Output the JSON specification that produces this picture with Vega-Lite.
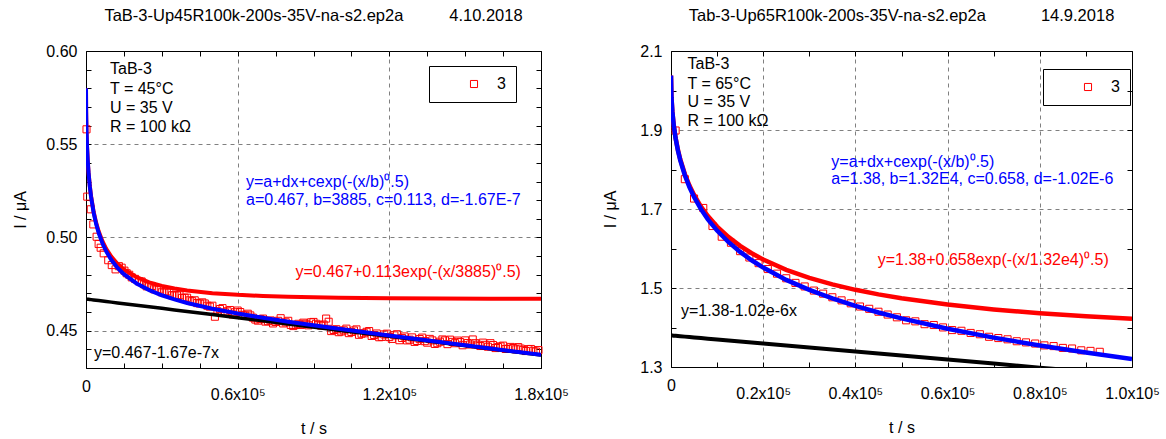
{
  "$schema": "https://vega.github.io/schema/vega-lite/v6.json",
  "autosize": {"type": "pad"},
  "padding": {"left": 12, "top": 7, "right": 0, "bottom": 0},
  "background": "white",
  "config": {
    "view": {"stroke": "black", "strokeWidth": 1},
    "font": "Liberation Sans",
    "axis": {"domain": false, "ticks": true, "tickSize": -5, "tickColor": "black", "tickWidth": 1,
      "labelFont": "Liberation Sans", "labelFontSize": 16, "labelColor": "black",
      "labelFlush": false, "labelOverlap": false, "labelBound": false,
      "titleFont": "Liberation Sans", "titleFontSize": 16, "titleFontWeight": "normal", "titleColor": "black",
      "gridColor": "#808080", "gridDash": [4, 4], "gridWidth": 1},
    "title": {"font": "Liberation Sans", "fontSize": 16.5, "fontWeight": "normal", "color": "black", "anchor": "middle", "frame": "group", "offset": 19},
    "legend": {"orient": "none", "title": null, "strokeColor": "black", "padding": 10, "symbolOffset": 27, "labelOffset": 15,
      "symbolType": "square", "symbolSize": 50, "symbolStrokeColor": "#ff0000", "symbolFillColor": "transparent", "symbolStrokeWidth": 1,
      "labelFont": "Liberation Sans", "labelFontSize": 16, "labelColor": "black"}
  },
  "datasets": {
    "left_pts": [
      {"t":200,"I":0.558},{"t":500,"I":0.5219},{"t":1900,"I":0.5151},{"t":2900,"I":0.507},{"t":4200,"I":0.5004},{"t":5000,"I":0.4965},{"t":5800,"I":0.4945},{"t":7000,"I":0.4915},{"t":8800,"I":0.4878},{"t":10200,"I":0.4852},{"t":11700,"I":0.4829},{"t":13000,"I":0.4846},{"t":14100,"I":0.4838},{"t":15200,"I":0.4822},{"t":16100,"I":0.4808},{"t":17100,"I":0.48},{"t":18100,"I":0.4786},{"t":19400,"I":0.4778},
      {"t":21000,"I":0.4765},{"t":22000,"I":0.4764},{"t":23000,"I":0.4749},{"t":24000,"I":0.4738},{"t":25000,"I":0.474},{"t":26000,"I":0.474},{"t":27000,"I":0.4722},{"t":28000,"I":0.4721},{"t":29000,"I":0.4721},{"t":30000,"I":0.4706},
      {"t":31000,"I":0.4705},{"t":32000,"I":0.4711},{"t":33000,"I":0.4704},{"t":34000,"I":0.469},{"t":35000,"I":0.469},{"t":36000,"I":0.469},{"t":37000,"I":0.469},{"t":38000,"I":0.4676},{"t":39000,"I":0.4677},{"t":40000,"I":0.4677},
      {"t":41000,"I":0.4663},{"t":42000,"I":0.4658},{"t":43000,"I":0.4663},{"t":44000,"I":0.4648},{"t":45000,"I":0.4646},{"t":46000,"I":0.4652},{"t":47000,"I":0.4646},{"t":48000,"I":0.4634},{"t":49000,"I":0.4629},{"t":50000,"I":0.4634},
      {"t":51000,"I":0.4575},{"t":52000,"I":0.4604},{"t":53000,"I":0.4616},{"t":54000,"I":0.4621},{"t":55000,"I":0.4598},{"t":56000,"I":0.4604},{"t":57000,"I":0.4611},{"t":58000,"I":0.4587},{"t":59000,"I":0.4599},{"t":60000,"I":0.4608},
      {"t":61000,"I":0.46},{"t":62000,"I":0.4585},{"t":63000,"I":0.4581},{"t":64000,"I":0.4591},{"t":65000,"I":0.4582},{"t":66000,"I":0.457},{"t":67000,"I":0.456},{"t":68000,"I":0.4554},{"t":69000,"I":0.4562},{"t":70000,"I":0.4565},
      {"t":71000,"I":0.4549},{"t":72000,"I":0.4551},{"t":73000,"I":0.4555},{"t":74000,"I":0.4539},{"t":75000,"I":0.4547},{"t":76000,"I":0.4553},{"t":77000,"I":0.4567},{"t":78000,"I":0.4539},{"t":79000,"I":0.4545},{"t":80000,"I":0.4553},
      {"t":81000,"I":0.4531},{"t":82000,"I":0.4525},{"t":83000,"I":0.4531},{"t":84000,"I":0.4537},{"t":85000,"I":0.4531},{"t":86000,"I":0.4543},{"t":87000,"I":0.4537},{"t":88000,"I":0.4529},{"t":89000,"I":0.4545},{"t":90000,"I":0.4547},
      {"t":91000,"I":0.4537},{"t":92000,"I":0.4531},{"t":93000,"I":0.4527},{"t":94000,"I":0.4533},{"t":95000,"I":0.4565},{"t":96000,"I":0.4548},{"t":97000,"I":0.4498},{"t":98000,"I":0.4504},{"t":99000,"I":0.4508},{"t":100000,"I":0.4492},
      {"t":101000,"I":0.4496},{"t":102000,"I":0.4502},{"t":103000,"I":0.4511},{"t":104000,"I":0.4487},{"t":105000,"I":0.4493},{"t":106000,"I":0.4501},{"t":107000,"I":0.4507},{"t":108000,"I":0.4478},{"t":109000,"I":0.4484},{"t":110000,"I":0.4486},
      {"t":111000,"I":0.4494},{"t":112000,"I":0.4498},{"t":113000,"I":0.4472},{"t":114000,"I":0.4477},{"t":115000,"I":0.4485},{"t":116000,"I":0.4465},{"t":117000,"I":0.4467},{"t":118000,"I":0.448},{"t":119000,"I":0.4484},{"t":120000,"I":0.4466},
      {"t":121000,"I":0.4456},{"t":122000,"I":0.4475},{"t":123000,"I":0.4481},{"t":124000,"I":0.4449},{"t":125000,"I":0.4461},{"t":126000,"I":0.4469},{"t":127000,"I":0.4448},{"t":128000,"I":0.4452},{"t":129000,"I":0.4464},{"t":130000,"I":0.444},
      {"t":131000,"I":0.4445},{"t":132000,"I":0.4455},{"t":133000,"I":0.4463},{"t":134000,"I":0.4444},{"t":135000,"I":0.4436},{"t":136000,"I":0.4456},{"t":137000,"I":0.4448},{"t":138000,"I":0.4429},{"t":139000,"I":0.4433},{"t":140000,"I":0.4441},
      {"t":141000,"I":0.4453},{"t":142000,"I":0.4448},{"t":143000,"I":0.4428},{"t":144000,"I":0.4452},{"t":145000,"I":0.444},{"t":146000,"I":0.4433},{"t":147000,"I":0.4447},{"t":148000,"I":0.4439},{"t":149000,"I":0.4422},{"t":150000,"I":0.4448},
      {"t":151000,"I":0.4434},{"t":152000,"I":0.4426},{"t":153000,"I":0.4453},{"t":154000,"I":0.4433},{"t":155000,"I":0.4425},{"t":156000,"I":0.4418},{"t":157000,"I":0.4436},{"t":158000,"I":0.4424},{"t":159000,"I":0.4414},{"t":160000,"I":0.4433},
      {"t":161000,"I":0.4423},{"t":162000,"I":0.4407},{"t":163000,"I":0.4412},{"t":164000,"I":0.4416},{"t":165000,"I":0.442},{"t":166000,"I":0.4402},{"t":167000,"I":0.4403},{"t":168000,"I":0.4413},{"t":169000,"I":0.4407},{"t":170000,"I":0.44},
      {"t":171000,"I":0.4412},{"t":172000,"I":0.4404},{"t":173000,"I":0.4397},{"t":174000,"I":0.4391},{"t":175000,"I":0.4401},{"t":176000,"I":0.4402},{"t":177000,"I":0.4392},{"t":178000,"I":0.4388},{"t":179000,"I":0.4396}
    ],
    "left_fit": [
      {"t":0,"fit":0.58,"decay":0.58,"linear":0.467},
      {"t":50,"fit":0.56788,"decay":0.56789,"linear":0.46699},
      {"t":100,"fit":0.56323,"decay":0.56325,"linear":0.46698},
      {"t":200,"fit":0.55703,"decay":0.55706,"linear":0.46697},
      {"t":400,"fit":0.54891,"decay":0.54898,"linear":0.46693},
      {"t":700,"fit":0.54079,"decay":0.54091,"linear":0.46688},
      {"t":1000,"fit":0.53487,"decay":0.53504,"linear":0.46683},
      {"t":1500,"fit":0.52745,"decay":0.5277,"linear":0.46675},
      {"t":2000,"fit":0.52181,"decay":0.52214,"linear":0.46667},
      {"t":3000,"fit":0.51343,"decay":0.51393,"linear":0.4665},
      {"t":4000,"fit":0.50729,"decay":0.50796,"linear":0.46633},
      {"t":5000,"fit":0.50251,"decay":0.50334,"linear":0.46617},
      {"t":6500,"fit":0.49691,"decay":0.498,"linear":0.46591},
      {"t":8000,"fit":0.49257,"decay":0.49391,"linear":0.46566},
      {"t":10000,"fit":0.48804,"decay":0.48971,"linear":0.46533},
      {"t":12500,"fit":0.4837,"decay":0.48579,"linear":0.46491},
      {"t":15000,"fit":0.48034,"decay":0.48284,"linear":0.4645},
      {"t":20000,"fit":0.47535,"decay":0.47869,"linear":0.46366},
      {"t":25000,"fit":0.47177,"decay":0.47594,"linear":0.46283},
      {"t":30000,"fit":0.46901,"decay":0.47402,"linear":0.46199},
      {"t":35000,"fit":0.46678,"decay":0.47262,"linear":0.46116},
      {"t":40000,"fit":0.46489,"decay":0.47157,"linear":0.46032},
      {"t":50000,"fit":0.46178,"decay":0.47013,"linear":0.45865},
      {"t":60000,"fit":0.4592,"decay":0.46922,"linear":0.45698},
      {"t":70000,"fit":0.45693,"decay":0.46862,"linear":0.45531},
      {"t":80000,"fit":0.45485,"decay":0.46821,"linear":0.45364},
      {"t":100000,"fit":0.45101,"decay":0.46771,"linear":0.4503},
      {"t":120000,"fit":0.4474,"decay":0.46744,"linear":0.44696},
      {"t":140000,"fit":0.4439,"decay":0.46728,"linear":0.44362},
      {"t":160000,"fit":0.44046,"decay":0.46718,"linear":0.44028},
      {"t":180000,"fit":0.43707,"decay":0.46713,"linear":0.43694}
    ],
    "left_notes": [
      {"t":9494,"I":0.5904,"label":"TaB-3","kind":"k"},
      {"t":9494,"I":0.5796,"label":"T = 45°C","kind":"k"},
      {"t":9494,"I":0.5694,"label":"U = 35 V","kind":"k"},
      {"t":9494,"I":0.5592,"label":"R = 100 kΩ","kind":"k"},
      {"t":63300,"I":0.5297,"label":"y=a+dx+cexp(-(x/b)⁰.5)","kind":"b"},
      {"t":63300,"I":0.5201,"label":"a=0.467, b=3885, c=0.113, d=-1.67E-7","kind":"b"},
      {"t":82880,"I":0.4816,"label":"y=0.467+0.113exp(-(x/3885)⁰.5)","kind":"r"},
      {"t":3165,"I":0.4382,"label":"y=0.467-1.67e-7x","kind":"k"}
    ],
    "right_pts": [
      {"t":1000,"I":1.8987},{"t":3000,"I":1.7755},{"t":5000,"I":1.7265},{"t":7000,"I":1.7026},{"t":9000,"I":1.6569},{"t":11000,"I":1.6299},{"t":13000,"I":1.6146},{"t":15000,"I":1.5933},
      {"t":17000,"I":1.5772},{"t":19000,"I":1.5629},{"t":21000,"I":1.548},{"t":23000,"I":1.5363},{"t":25000,"I":1.5246},{"t":27000,"I":1.5129},{"t":29000,"I":1.5039},{"t":31000,"I":1.4935},
      {"t":33000,"I":1.4857},{"t":35000,"I":1.4765},{"t":37000,"I":1.4687},{"t":39000,"I":1.4612},{"t":41000,"I":1.4531},{"t":43000,"I":1.4473},{"t":45000,"I":1.4399},{"t":47000,"I":1.4328},
      {"t":49000,"I":1.4258},{"t":51000,"I":1.4182},{"t":53000,"I":1.4156},{"t":55000,"I":1.4084},{"t":57000,"I":1.4063},{"t":59000,"I":1.4002},{"t":61000,"I":1.3935},{"t":63000,"I":1.3917},
      {"t":65000,"I":1.3862},{"t":67000,"I":1.3829},{"t":69000,"I":1.3765},{"t":71000,"I":1.3733},{"t":73000,"I":1.3701},{"t":75000,"I":1.3652},{"t":77000,"I":1.3623},{"t":79000,"I":1.3594},
      {"t":81000,"I":1.3547},{"t":83000,"I":1.3529},{"t":85000,"I":1.3483},{"t":87000,"I":1.3468},{"t":89000,"I":1.3422},{"t":91000,"I":1.3408},{"t":93000,"I":1.3384}
    ],
    "right_fit": [
      {"t":0,"fit":2.038,"decay":2.038,"linear":1.38},
      {"t":100,"fit":1.983,"decay":1.9831,"linear":1.3799},
      {"t":300,"fit":1.9456,"decay":1.9459,"linear":1.3797},
      {"t":600,"fit":1.9111,"decay":1.9117,"linear":1.3794},
      {"t":1000,"fit":1.8787,"decay":1.8797,"linear":1.379},
      {"t":1500,"fit":1.8482,"decay":1.8497,"linear":1.3785},
      {"t":2000,"fit":1.8239,"decay":1.8259,"linear":1.378},
      {"t":3000,"fit":1.7855,"decay":1.7885,"linear":1.3769},
      {"t":4000,"fit":1.7554,"decay":1.7595,"linear":1.3759},
      {"t":5000,"fit":1.7305,"decay":1.7356,"linear":1.3749},
      {"t":6500,"fit":1.6996,"decay":1.7062,"linear":1.3734},
      {"t":8000,"fit":1.6739,"decay":1.6821,"linear":1.3718},
      {"t":10000,"fit":1.6454,"decay":1.6556,"linear":1.3698},
      {"t":12500,"fit":1.6159,"decay":1.6287,"linear":1.3673},
      {"t":15000,"fit":1.5913,"decay":1.6066,"linear":1.3647},
      {"t":17500,"fit":1.5702,"decay":1.5881,"linear":1.3622},
      {"t":20000,"fit":1.5517,"decay":1.5721,"linear":1.3596},
      {"t":25000,"fit":1.5206,"decay":1.5461,"linear":1.3545},
      {"t":30000,"fit":1.4951,"decay":1.5257,"linear":1.3494},
      {"t":35000,"fit":1.4735,"decay":1.5092,"linear":1.3443},
      {"t":40000,"fit":1.4546,"decay":1.4954,"linear":1.3392},
      {"t":45000,"fit":1.4379,"decay":1.4838,"linear":1.3341},
      {"t":50000,"fit":1.423,"decay":1.474,"linear":1.329},
      {"t":60000,"fit":1.3968,"decay":1.458,"linear":1.3188},
      {"t":70000,"fit":1.3744,"decay":1.4458,"linear":1.3086},
      {"t":80000,"fit":1.3545,"decay":1.4361,"linear":1.2984},
      {"t":90000,"fit":1.3365,"decay":1.4283,"linear":1.2882},
      {"t":100000,"fit":1.32,"decay":1.422,"linear":1.278}
    ],
    "right_notes": [
      {"t":3576,"I":2.0663,"label":"TaB-3","kind":"k"},
      {"t":3576,"I":2.016,"label":"T = 65°C","kind":"k"},
      {"t":3576,"I":1.9699,"label":"U = 35 V","kind":"k"},
      {"t":3576,"I":1.9221,"label":"R = 100 kΩ","kind":"k"},
      {"t":34780,"I":1.819,"label":"y=a+dx+cexp(-(x/b)⁰.5)","kind":"b"},
      {"t":34780,"I":1.7762,"label":"a=1.38, b=1.32E4, c=0.658, d=-1.02E-6","kind":"b"},
      {"t":44840,"I":1.5717,"label":"y=1.38+0.658exp(-(x/1.32e4)⁰.5)","kind":"r"},
      {"t":2145,"I":1.4416,"label":"y=1.38-1.02e-6x","kind":"k"}
    ]
  },
  "bounds": "flush",
  "spacing": 130,
  "resolve": {"scale": {"x": "independent", "y": "independent", "shape": "independent", "color": "independent"}, "legend": {"shape": "independent", "color": "independent"}},
  "hconcat": [
    {
      "width": 455, "height": 317,
      "title": {"text": "TaB-3-Up45R100k-200s-35V-na-s2.ep2a\u00a0\u00a0\u00a0\u00a0\u00a0\u00a0\u00a0\u00a0\u00a0\u00a04.10.2018"},
      "layer": [
        {
          "data": {"name": "left_pts"},
          "mark": {"type": "point", "filled": false, "size": 50, "strokeWidth": 1, "color": "#ff0000", "opacity": 1},
          "encoding": {
            "x": {"field": "t", "type": "quantitative", "scale": {"domain": [0, 180000], "nice": false, "zero": false},
              "axis": {"orient": "bottom", "title": "t / s", "values": [0,15000,30000,45000,60000,75000,90000,105000,120000,135000,150000,165000,180000],
                "labelExpr": "datum.value === 0 ? '0' : (datum.value % 60000 === 0 ? format(datum.value/100000, '.1f') + 'x10⁵' : '')",
                "grid": true, "gridOpacity": {"condition": {"test": "datum.value % 60000 === 0 && datum.value > 0 && datum.value < 180000", "value": 1}, "value": 0},
                "labelPadding": {"condition": {"test": "datum.value === 0", "value": 15}, "value": 23}, "titlePadding": 18}},
            "y": {"field": "I", "type": "quantitative", "scale": {"domain": [0.43, 0.6], "nice": false, "zero": false},
              "axis": {"orient": "left", "title": "I / μA", "values": [0.43,0.44,0.45,0.46,0.47,0.48,0.49,0.5,0.51,0.52,0.53,0.54,0.55,0.56,0.57,0.58,0.59,0.6],
                "labelExpr": "round(datum.value*100) % 5 === 0 ? format(datum.value, '.2f') : ''",
                "grid": true, "gridOpacity": {"condition": {"test": "round(datum.value*100) % 5 === 0 && datum.value > 0.435 && datum.value < 0.595", "value": 1}, "value": 0},
                "labelPadding": 14, "titlePadding": 17}},
            "shape": {"datum": "3", "type": "nominal", "scale": {"domain": ["3"], "range": ["square"]},
              "legend": {"legendX": 343, "legendY": 15}}
          }
        },
        {
          "data": {"name": "left_fit"},
          "mark": {"type": "line", "color": "#ff0000", "strokeWidth": 4, "clip": true},
          "encoding": {
            "x": {"field": "t", "type": "quantitative", "scale": {"domain": [0, 180000], "nice": false, "zero": false},
              "axis": {"orient": "top", "title": null, "labels": false, "grid": false, "values": [0,15000,30000,45000,60000,75000,90000,105000,120000,135000,150000,165000,180000]}},
            "y": {"field": "decay", "type": "quantitative", "scale": {"domain": [0.43, 0.6], "nice": false, "zero": false},
              "axis": {"orient": "right", "title": null, "labels": false, "grid": false, "values": [0.43,0.44,0.45,0.46,0.47,0.48,0.49,0.5,0.51,0.52,0.53,0.54,0.55,0.56,0.57,0.58,0.59,0.6]}}
          }
        },
        {
          "data": {"name": "left_fit"},
          "mark": {"type": "line", "color": "#000000", "strokeWidth": 3.5, "clip": true},
          "encoding": {
            "x": {"field": "t", "type": "quantitative", "scale": {"domain": [0, 180000], "nice": false, "zero": false}, "axis": null},
            "y": {"field": "linear", "type": "quantitative", "scale": {"domain": [0.43, 0.6], "nice": false, "zero": false}, "axis": null}
          }
        },
        {
          "data": {"name": "left_fit"},
          "mark": {"type": "line", "color": "#0000ff", "strokeWidth": 4, "clip": true},
          "encoding": {
            "x": {"field": "t", "type": "quantitative", "scale": {"domain": [0, 180000], "nice": false, "zero": false}, "axis": null},
            "y": {"field": "fit", "type": "quantitative", "scale": {"domain": [0.43, 0.6], "nice": false, "zero": false}, "axis": null}
          }
        },
        {
          "data": {"name": "left_notes"},
          "mark": {"type": "text", "align": "left", "baseline": "middle", "fontSize": 16, "font": "Liberation Sans"},
          "encoding": {
            "x": {"field": "t", "type": "quantitative", "scale": {"domain": [0, 180000], "nice": false, "zero": false}, "axis": null},
            "y": {"field": "I", "type": "quantitative", "scale": {"domain": [0.43, 0.6], "nice": false, "zero": false}, "axis": null},
            "text": {"field": "label"},
            "color": {"field": "kind", "type": "nominal", "scale": {"domain": ["k", "b", "r"], "range": ["#000000", "#0000ff", "#ff0000"]}, "legend": null}
          }
        }
      ]
    },
    {
      "width": 461, "height": 316,
      "title": {"text": "Tab-3-Up65R100k-200s-35V-na-s2.ep2a\u00a0\u00a0\u00a0\u00a0\u00a0\u00a0\u00a0\u00a0\u00a0\u00a0\u00a0\u00a014.9.2018"},
      "layer": [
        {
          "data": {"name": "right_pts"},
          "mark": {"type": "point", "filled": false, "size": 50, "strokeWidth": 1, "color": "#ff0000", "opacity": 1},
          "encoding": {
            "x": {"field": "t", "type": "quantitative", "scale": {"domain": [0, 100000], "nice": false, "zero": false},
              "axis": {"orient": "bottom", "title": "t / s", "values": [0,10000,20000,30000,40000,50000,60000,70000,80000,90000,100000],
                "labelExpr": "datum.value === 0 ? '0' : (datum.value % 20000 === 0 ? format(datum.value/100000, '.1f') + 'x10⁵' : '')",
                "grid": true, "gridOpacity": {"condition": {"test": "datum.value % 20000 === 0 && datum.value > 0 && datum.value < 100000", "value": 1}, "value": 0},
                "labelPadding": {"condition": {"test": "datum.value === 0", "value": 15}, "value": 23}, "titlePadding": 18}},
            "y": {"field": "I", "type": "quantitative", "scale": {"domain": [1.3, 2.1], "nice": false, "zero": false},
              "axis": {"orient": "left", "title": "I / μA", "values": [1.3,1.4,1.5,1.6,1.7,1.8,1.9,2.0,2.1],
                "labelExpr": "round(datum.value*10) % 2 === 1 ? format(datum.value, '.1f') : ''",
                "grid": true, "gridOpacity": {"condition": {"test": "round(datum.value*10) % 2 === 1 && datum.value > 1.35 && datum.value < 2.05", "value": 1}, "value": 0},
                "labelPadding": 14, "titlePadding": 21}},
            "shape": {"datum": "3", "type": "nominal", "scale": {"domain": ["3"], "range": ["square"]},
              "legend": {"legendX": 372, "legendY": 18}}
          }
        },
        {
          "data": {"name": "right_fit"},
          "mark": {"type": "line", "color": "#ff0000", "strokeWidth": 4.5, "clip": true},
          "encoding": {
            "x": {"field": "t", "type": "quantitative", "scale": {"domain": [0, 100000], "nice": false, "zero": false},
              "axis": {"orient": "top", "title": null, "labels": false, "grid": false, "values": [0,10000,20000,30000,40000,50000,60000,70000,80000,90000,100000]}},
            "y": {"field": "decay", "type": "quantitative", "scale": {"domain": [1.3, 2.1], "nice": false, "zero": false},
              "axis": {"orient": "right", "title": null, "labels": false, "grid": false, "values": [1.3,1.4,1.5,1.6,1.7,1.8,1.9,2.0,2.1]}}
          }
        },
        {
          "data": {"name": "right_fit"},
          "mark": {"type": "line", "color": "#000000", "strokeWidth": 4, "clip": true},
          "encoding": {
            "x": {"field": "t", "type": "quantitative", "scale": {"domain": [0, 100000], "nice": false, "zero": false}, "axis": null},
            "y": {"field": "linear", "type": "quantitative", "scale": {"domain": [1.3, 2.1], "nice": false, "zero": false}, "axis": null}
          }
        },
        {
          "data": {"name": "right_fit"},
          "mark": {"type": "line", "color": "#0000ff", "strokeWidth": 4.5, "clip": true},
          "encoding": {
            "x": {"field": "t", "type": "quantitative", "scale": {"domain": [0, 100000], "nice": false, "zero": false}, "axis": null},
            "y": {"field": "fit", "type": "quantitative", "scale": {"domain": [1.3, 2.1], "nice": false, "zero": false}, "axis": null}
          }
        },
        {
          "data": {"name": "right_notes"},
          "mark": {"type": "text", "align": "left", "baseline": "middle", "fontSize": 16, "font": "Liberation Sans"},
          "encoding": {
            "x": {"field": "t", "type": "quantitative", "scale": {"domain": [0, 100000], "nice": false, "zero": false}, "axis": null},
            "y": {"field": "I", "type": "quantitative", "scale": {"domain": [1.3, 2.1], "nice": false, "zero": false}, "axis": null},
            "text": {"field": "label"},
            "color": {"field": "kind", "type": "nominal", "scale": {"domain": ["k", "b", "r"], "range": ["#000000", "#0000ff", "#ff0000"]}, "legend": null}
          }
        }
      ]
    }
  ]
}
